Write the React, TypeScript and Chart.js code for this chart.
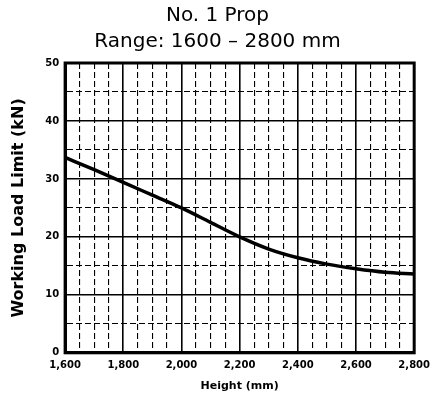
import React, { useEffect, useRef } from "react";
import { Chart, registerables } from "chart.js";

Chart.register(...registerables);

const titleLines = ["No. 1 Prop", "Range: 1600 – 2800 mm"];
const heights = [1600, 1700, 1800, 1900, 2000, 2100, 2200, 2300, 2400, 2500, 2600, 2700, 2800];
const loads = [33.7, 31.6, 29.4, 27.2, 25.0, 22.5, 20.0, 17.9, 16.4, 15.3, 14.5, 13.9, 13.6];
const xLabelEvery = 200;
const yLabelEvery = 10;

const framePlugin = {
  id: "frame",
  beforeDatasetsDraw(chart: any) {
    const { ctx, chartArea } = chart;
    ctx.save();
    ctx.strokeStyle = "#000";
    ctx.lineWidth = 3;
    ctx.strokeRect(chartArea.left, chartArea.top, chartArea.right - chartArea.left, chartArea.bottom - chartArea.top);
    ctx.restore();
  },
};

export default function App() {
  const ref = useRef<HTMLCanvasElement>(null);
  useEffect(() => {
    document.body.style.margin = "0";
    const font = "'DejaVu Sans', sans-serif";
    const chart = new Chart(ref.current!, {
      type: "line",
      data: {
        datasets: [
          {
            data: heights.map((h, i) => ({ x: h, y: loads[i] })),
            borderColor: "#000",
            borderWidth: 3.5,
            pointRadius: 0,
            cubicInterpolationMode: "monotone",
            fill: false,
          },
        ],
      },
      options: {
        animation: false,
        responsive: false,
        maintainAspectRatio: false,
        layout: { padding: { left: 9, right: 11, top: 0, bottom: 12 } },
        plugins: {
          legend: { display: false },
          tooltip: { enabled: false },
          title: {
            display: true,
            text: titleLines,
            color: "#000",
            font: { family: font, size: 20, weight: "normal", lineHeight: 1.3 },
            padding: { top: 3, bottom: 8 },
          },
        },
        scales: {
          x: {
            type: "linear",
            min: 1600,
            max: 2800,
            ticks: {
              stepSize: 50,
              autoSkip: false,
              maxRotation: 0,
              color: "#000",
              padding: 7,
              font: { family: font, size: 10, weight: "bold" },
              callback: (v: any) => (v % xLabelEvery === 0 ? Number(v).toLocaleString("en-US") : ""),
            },
            grid: {
              color: "#000",
              drawTicks: false,
              lineWidth: (c: any) => (c.tick && c.tick.value % xLabelEvery === 0 ? 1.6 : 1.1),
            },
            border: {
              display: true,
              color: "#000",
              width: 3,
              dash: (c: any) => (c.tick && c.tick.value % xLabelEvery !== 0 ? [6, 3] : []),
            },
            title: {
              display: true,
              text: "Height (mm)",
              color: "#000",
              font: { family: font, size: 11, weight: "bold" },
              padding: { top: 1, bottom: 0 },
            },
          },
          y: {
            min: 0,
            max: 50,
            ticks: {
              stepSize: 5,
              autoSkip: false,
              color: "#000",
              padding: 6,
              font: { family: font, size: 10, weight: "bold" },
              callback: (v: any) => (v % yLabelEvery === 0 ? String(v) : ""),
            },
            grid: {
              color: "#000",
              drawTicks: false,
              lineWidth: (c: any) => (c.tick && c.tick.value % yLabelEvery === 0 ? 1.6 : 1.1),
            },
            border: {
              display: true,
              color: "#000",
              width: 3,
              dash: (c: any) => (c.tick && c.tick.value % yLabelEvery !== 0 ? [6, 3] : []),
            },
            title: {
              display: true,
              text: "Working Load Limit (kN)",
              color: "#000",
              font: { family: font, size: 16, weight: "bold" },
              padding: { top: 0, bottom: 11 },
            },
          },
        },
      },
      plugins: [framePlugin],
    } as any);
    return () => chart.destroy();
  }, []);
  return <canvas ref={ref} width={437} height={405} style={{ display: "block" }} />;
}
